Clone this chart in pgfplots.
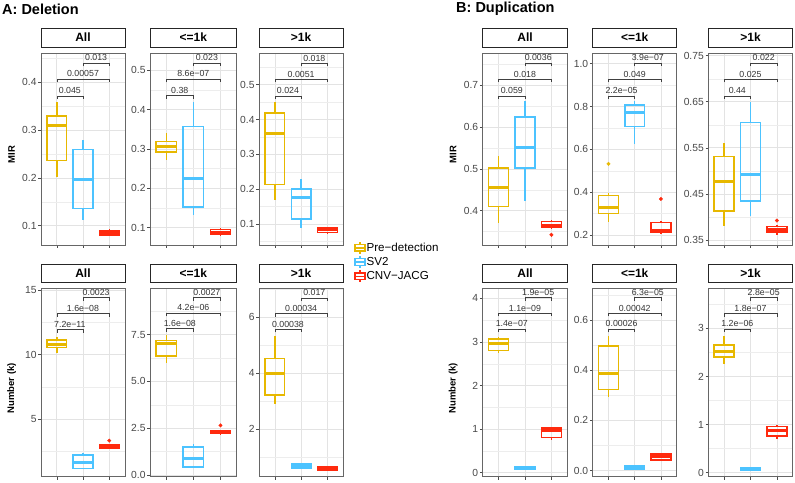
\documentclass[border=0pt]{standalone}
\usepackage{fontspec}
\setmainfont{Liberation Sans}
\usepackage{pgfplots}
\pgfplotsset{compat=1.18}
\usepgfplotslibrary{statistics}

\definecolor{cpre}{HTML}{E7B800}
\definecolor{csv}{HTML}{4CC3FF}
\definecolor{cjacg}{HTML}{FF2A0E}

% significance bracket: x1, x2, mid, y, label
\newcommand\brk[5]{%
  \draw[black!75, line width=0.45pt] ([yshift=-3.3pt]axis cs:#1,#4) -- (axis cs:#1,#4) -- (axis cs:#2,#4) -- ([yshift=-3.3pt]axis cs:#2,#4);
  \node[font=\fontsize{8.8}{10}\selectfont, anchor=south, inner sep=1.8pt, text=black!80] at (axis cs:#3,#4) {#5};}

\pgfplotsset{
  panel/.style={
    scale only axis, anchor=south west,
    xmin=0.4, xmax=3.6, xtick={1,2,3}, xticklabels={},
    axis line style={black!60, line width=0.6pt},
    tick align=outside, tick pos=left, major tick length=2.8pt,
    tick style={black!70, line width=0.5pt},
    minor tick length=0pt,
    grid=both,
    major grid style={black!11, line width=0.6pt},
    minor grid style={black!7, line width=0.35pt},
    yticklabel style={font=\fontsize{10.3}{12}\selectfont, text=black!72, inner sep=1.5pt},
    /pgf/number format/assume math mode=true,
    clip=false,
    title style={at={(0.5,1)}, anchor=south, draw=black!85, fill=white, line width=0.7pt,
      inner sep=0pt, outer sep=0pt, font=\bfseries\fontsize{12}{14}\selectfont},
    boxplot/draw direction=y,
    boxplot/box extend=0.75, boxplot/whisker extend=0,
    boxplot/every median/.style={line width=3pt},
    ylabel style={at={(axis description cs:-0.35,0.47)}, anchor=center,
      font=\bfseries\fontsize{9.5}{11}\selectfont},
  },
  pw/.style={width=#1, title style={minimum width=#1}},
  row1/.style={height=192pt, title style={minimum height=19pt}},
  row2/.style={height=188.4pt, title style={minimum height=18.3pt}},
  pre/.style={cpre, line width=1.5pt, mark=*, mark size=1.8pt, mark options={fill=cpre, draw=cpre, line width=0.3pt, solid}},
  sv/.style={csv, line width=1.5pt, mark=*, mark size=1.8pt, mark options={fill=csv, draw=csv, line width=0.3pt, solid}},
  jacg/.style={cjacg, line width=1.5pt, mark=*, mark size=1.8pt, mark options={fill=cjacg, draw=cjacg, line width=0.3pt, solid}},
}

\begin{document}
\begin{tikzpicture}[x=1pt, y=1pt]
\useasboundingbox (0,0) rectangle (795,482);

\node[anchor=west, font=\bfseries\fontsize{14.5}{16}\selectfont, inner sep=0pt] at (2,473) {A: Deletion};
\node[anchor=west, font=\bfseries\fontsize{14.5}{16}\selectfont, inner sep=0pt] at (456,473) {B: Duplication};

% ---------------- Deletion, MIR ----------------
\begin{axis}[panel, row1, pw=84pt, at={(41pt,237pt)}, title={All}, ylabel={MIR},
  ymin=0.0594, ymax=0.4615, ytick={0.1,0.2,0.3,0.4}, yticklabels={0.1,0.2,0.3,0.4},
  minor ytick={0.15,0.25,0.35,0.45}]
\addplot[pre, boxplot prepared={draw position=1, lower whisker=0.201, lower quartile=0.236, median=0.310, upper quartile=0.330, upper whisker=0.358}] coordinates {};
\addplot[sv, boxplot prepared={draw position=2, lower whisker=0.112, lower quartile=0.136, median=0.196, upper quartile=0.259, upper whisker=0.280}] coordinates {};
\addplot[jacg, boxplot prepared={draw position=3, lower whisker=0.078, lower quartile=0.080, median=0.085, upper quartile=0.090, upper whisker=0.092}] coordinates {};
\brk{1}{2}{1.5}{0.372}{0.045}
\brk{1}{3}{2}{0.407}{0.00057}
\brk{2}{3}{2.5}{0.4406}{0.013}
\end{axis}

\begin{axis}[panel, row1, pw=86.7pt, at={(150pt,237pt)}, title={<=1k},
  ymin=0.056, ymax=0.544, ytick={0.1,0.2,0.3,0.4,0.5}, yticklabels={0.1,0.2,0.3,0.4,0.5},
  minor ytick={0.15,0.25,0.35,0.45}]
\addplot[pre, boxplot prepared={draw position=1, lower whisker=0.271, lower quartile=0.292, median=0.307, upper quartile=0.319, upper whisker=0.340}] coordinates {};
\addplot[sv, boxplot prepared={draw position=2, lower whisker=0.132, lower quartile=0.153, median=0.226, upper quartile=0.357, upper whisker=0.419}] coordinates {};
\addplot[jacg, boxplot prepared={draw position=3, lower whisker=0.080, lower quartile=0.083, median=0.088, upper quartile=0.096, upper whisker=0.100}] coordinates {};
\brk{1}{2}{1.5}{0.4355}{0.38}
\brk{1}{3}{2}{0.478}{8.6e−07}
\brk{2}{3}{2.5}{0.519}{0.023}
\end{axis}

\begin{axis}[panel, row1, pw=84.3pt, at={(259pt,237pt)}, title={>1k},
  ymin=0.0396, ymax=0.591, ytick={0.1,0.2,0.3,0.4,0.5}, yticklabels={0.1,0.2,0.3,0.4,0.5},
  minor ytick={0.05,0.15,0.25,0.35,0.45,0.55}]
\addplot[pre, boxplot prepared={draw position=1, lower whisker=0.169, lower quartile=0.214, median=0.361, upper quartile=0.418, upper whisker=0.449}] coordinates {};
\addplot[sv, boxplot prepared={draw position=2, lower whisker=0.0875, lower quartile=0.114, median=0.176, upper quartile=0.201, upper whisker=0.229}] coordinates {};
\addplot[jacg, boxplot prepared={draw position=3, lower whisker=0.072, lower quartile=0.076, median=0.083, upper quartile=0.089, upper whisker=0.091}] coordinates {};
\brk{1}{2}{1.5}{0.468}{0.024}
\brk{1}{3}{2}{0.516}{0.0051}
\brk{2}{3}{2.5}{0.562}{0.018}
\end{axis}

% ---------------- Duplication, MIR ----------------
\begin{axis}[panel, row1, pw=84.6pt, at={(482.7pt,237pt)}, title={All}, ylabel={MIR},
  ymin=0.3176, ymax=0.7776, ytick={0.4,0.5,0.6,0.7}, yticklabels={0.4,0.5,0.6,0.7},
  minor ytick={0.35,0.45,0.55,0.65,0.75}]
\addplot[pre, boxplot prepared={draw position=1, lower whisker=0.371, lower quartile=0.410, median=0.455, upper quartile=0.502, upper whisker=0.531}] coordinates {};
\addplot[sv, boxplot prepared={draw position=2, lower whisker=0.422, lower quartile=0.502, median=0.551, upper quartile=0.624, upper whisker=0.662}] coordinates {};
\addplot[jacg, boxplot prepared={draw position=3, lower whisker=0.358, lower quartile=0.359, median=0.365, upper quartile=0.374, upper whisker=0.378}] table[row sep=\\, y index=0] {v\\ 0.342\\};
\brk{1}{2}{1.5}{0.675}{0.059}
\brk{1}{3}{2}{0.715}{0.018}
\brk{2}{3}{2.5}{0.754}{0.0036}
\end{axis}

\begin{axis}[panel, row1, pw=84pt, at={(592.7pt,237pt)}, title={<=1k},
  ymin=0.153, ymax=1.05, ytick={0.2,0.4,0.6,0.8,1.0}, yticklabels={0.2,0.4,0.6,0.8,1.0},
  minor ytick={0.3,0.5,0.7,0.9}]
\addplot[pre, boxplot prepared={draw position=1, lower whisker=0.262, lower quartile=0.301, median=0.327, upper quartile=0.384, upper whisker=0.395}] table[row sep=\\, y index=0] {v\\ 0.532\\};
\addplot[sv, boxplot prepared={draw position=2, lower whisker=0.626, lower quartile=0.707, median=0.774, upper quartile=0.808, upper whisker=0.824}] coordinates {};
\addplot[jacg, boxplot prepared={draw position=3, lower whisker=0.203, lower quartile=0.211, median=0.222, upper quartile=0.259, upper whisker=0.265}] table[row sep=\\, y index=0] {v\\ 0.368\\};
\brk{1}{2}{1.5}{0.850}{2.2e−05}
\brk{1}{3}{2}{0.928}{0.049}
\brk{2}{3}{2.5}{1.003}{3.9e−07}
\end{axis}

\begin{axis}[panel, row1, pw=84.4pt, at={(708.3pt,237pt)}, title={>1k},
  ymin=0.339, ymax=0.7558, ytick={0.35,0.45,0.55,0.65,0.75}, yticklabels={0.35,0.45,0.55,0.65,0.75},
  minor ytick={0.4,0.5,0.6,0.7}]
\addplot[pre, boxplot prepared={draw position=1, lower whisker=0.380, lower quartile=0.413, median=0.476, upper quartile=0.531, upper whisker=0.560}] coordinates {};
\addplot[sv, boxplot prepared={draw position=2, lower whisker=0.401, lower quartile=0.435, median=0.491, upper quartile=0.605, upper whisker=0.649}] coordinates {};
\addplot[jacg, boxplot prepared={draw position=3, lower whisker=0.361, lower quartile=0.367, median=0.373, upper quartile=0.379, upper whisker=0.382}] table[row sep=\\, y index=0] {v\\ 0.392\\};
\brk{1}{2}{1.5}{0.663}{0.44}
\brk{1}{3}{2}{0.699}{0.025}
\brk{2}{3}{2.5}{0.734}{0.022}
\end{axis}

% ---------------- Deletion, Number ----------------
\begin{axis}[panel, row2, pw=84pt, at={(41pt,5.3pt)}, title={All}, ylabel={Number (k)},
  ymin=0.53, ymax=15.13, ytick={5,10,15}, yticklabels={5,10,15},
  minor ytick={2.5,7.5,12.5}]
\addplot[pre, boxplot prepared={draw position=1, lower whisker=10.09, lower quartile=10.56, median=10.74, upper quartile=11.12, upper whisker=11.38}] coordinates {};
\addplot[sv, boxplot prepared={draw position=2, lower whisker=1.10, lower quartile=1.18, median=1.64, upper quartile=2.21, upper whisker=2.34}] coordinates {};
\addplot[jacg, boxplot prepared={draw position=3, lower whisker=2.70, lower quartile=2.73, median=2.85, upper quartile=2.98, upper whisker=3.00}] table[row sep=\\, y index=0] {v\\ 3.32\\};
\brk{1}{2}{1.5}{11.95}{7.2e−11}
\brk{1}{3}{2}{13.19}{1.6e−08}
\brk{2}{3}{2.5}{14.41}{0.0023}
\end{axis}

\begin{axis}[panel, row2, pw=86.7pt, at={(150pt,5.3pt)}, title={<=1k},
  ymin=-0.09, ymax=9.97, ytick={0,2.5,5,7.5}, yticklabels={0.0,2.5,5.0,7.5},
  minor ytick={1.25,3.75,6.25,8.75}]
\addplot[pre, boxplot prepared={draw position=1, lower whisker=6.00, lower quartile=6.35, median=7.02, upper quartile=7.18, upper whisker=7.45}] coordinates {};
\addplot[sv, boxplot prepared={draw position=2, lower whisker=0.40, lower quartile=0.44, median=0.88, upper quartile=1.50, upper whisker=1.68}] coordinates {};
\addplot[jacg, boxplot prepared={draw position=3, lower whisker=2.19, lower quartile=2.21, median=2.28, upper quartile=2.35, upper whisker=2.37}] table[row sep=\\, y index=0] {v\\ 2.65\\};
\brk{1}{2}{1.5}{7.82}{1.6e−08}
\brk{1}{3}{2}{8.65}{4.2e−06}
\brk{2}{3}{2.5}{9.48}{0.0027}
\end{axis}

\begin{axis}[panel, row2, pw=84.3pt, at={(259pt,5.3pt)}, title={>1k},
  ymin=0.31, ymax=7.04, ytick={2,4,6}, yticklabels={2,4,6},
  minor ytick={1,3,5,7}]
\addplot[pre, boxplot prepared={draw position=1, lower whisker=2.89, lower quartile=3.23, median=3.98, upper quartile=4.54, upper whisker=5.33}] coordinates {};
\addplot[sv, boxplot prepared={draw position=2, lower whisker=0.60, lower quartile=0.62, median=0.70, upper quartile=0.786, upper whisker=0.80}] coordinates {};
\addplot[jacg, boxplot prepared={draw position=3, lower whisker=0.53, lower quartile=0.55, median=0.60, upper quartile=0.67, upper whisker=0.68}] coordinates {};
\brk{1}{2}{1.5}{5.58}{0.00038}
\brk{1}{3}{2}{6.14}{0.00034}
\brk{2}{3}{2.5}{6.70}{0.017}
\end{axis}

% ---------------- Duplication, Number ----------------
\begin{axis}[panel, row2, pw=84.6pt, at={(482.7pt,5.3pt)}, title={All}, ylabel={Number (k)},
  ymin=-0.092, ymax=4.23, ytick={0,1,2,3,4}, yticklabels={0,1,2,3,4},
  minor ytick={0.5,1.5,2.5,3.5}]
\addplot[pre, boxplot prepared={draw position=1, lower whisker=2.75, lower quartile=2.80, median=2.97, upper quartile=3.07, upper whisker=3.12}] coordinates {};
\addplot[sv, boxplot prepared={draw position=2, lower whisker=0.07, lower quartile=0.08, median=0.11, upper quartile=0.14, upper whisker=0.15}] coordinates {};
\addplot[jacg, boxplot prepared={draw position=3, lower whisker=0.76, lower quartile=0.81, median=0.97, upper quartile=1.02, upper whisker=1.03}] coordinates {};
\brk{1}{2}{1.5}{3.30}{1.4e−07}
\brk{1}{3}{2}{3.66}{1.1e−09}
\brk{2}{3}{2.5}{4.02}{1.9e−05}
\end{axis}

\begin{axis}[panel, row2, pw=84pt, at={(592.7pt,5.3pt)}, title={<=1k},
  ymin=-0.024, ymax=0.726, ytick={0,0.2,0.4,0.6}, yticklabels={0.0,0.2,0.4,0.6},
  minor ytick={0.1,0.3,0.5,0.7}]
\addplot[pre, boxplot prepared={draw position=1, lower whisker=0.295, lower quartile=0.324, median=0.388, upper quartile=0.496, upper whisker=0.536}] coordinates {};
\addplot[sv, boxplot prepared={draw position=2, lower whisker=0.005, lower quartile=0.007, median=0.013, upper quartile=0.020, upper whisker=0.022}] coordinates {};
\addplot[jacg, boxplot prepared={draw position=3, lower whisker=0.040, lower quartile=0.042, median=0.055, upper quartile=0.066, upper whisker=0.068}] coordinates {};
\brk{1}{2}{1.5}{0.564}{0.00026}
\brk{1}{3}{2}{0.627}{0.00042}
\brk{2}{3}{2.5}{0.689}{6.3e−05}
\end{axis}

\begin{axis}[panel, row2, pw=84.4pt, at={(708.3pt,5.3pt)}, title={>1k},
  ymin=-0.083, ymax=3.83, ytick={0,1,2,3}, yticklabels={0,1,2,3},
  minor ytick={0.5,1.5,2.5,3.5}]
\addplot[pre, boxplot prepared={draw position=1, lower whisker=2.25, lower quartile=2.40, median=2.51, upper quartile=2.65, upper whisker=2.83}] coordinates {};
\addplot[sv, boxplot prepared={draw position=2, lower whisker=0.05, lower quartile=0.055, median=0.08, upper quartile=0.11, upper whisker=0.115}] coordinates {};
\addplot[jacg, boxplot prepared={draw position=3, lower whisker=0.70, lower quartile=0.76, median=0.88, upper quartile=0.96, upper whisker=0.99}] coordinates {};
\brk{1}{2}{1.5}{2.99}{1.2e−06}
\brk{1}{3}{2}{3.31}{1.8e−07}
\brk{2}{3}{2.5}{3.64}{2.8e−05}
\end{axis}

% ---------------- legend ----------------
\begin{axis}[at={(354pt,241pt)}, anchor=south west, hide axis, scale only axis,
  width=5pt, height=5pt, xmin=0, xmax=1, ymin=0, ymax=1,
  legend style={at={(0,0)}, anchor=north west, draw=none, fill=none,
    font=\fontsize{11.6}{13}\selectfont, row sep=0.8pt, inner sep=0pt,
    nodes={inner sep=1pt}},
  legend cell align=left,
  legend image code/.code={
    \draw[#1, line width=1.4pt, fill=white] (0pt,-3.3pt) rectangle (10pt,3.3pt);
    \draw[#1, line width=1.4pt] (0pt,0pt) -- (10pt,0pt) (5pt,3.3pt) -- (5pt,6pt) (5pt,-3.3pt) -- (5pt,-6pt);
  }]
\addlegendimage{cpre}
\addlegendentry{Pre−detection}
\addlegendimage{csv}
\addlegendentry{SV2}
\addlegendimage{cjacg}
\addlegendentry{CNV−JACG}
\end{axis}
\end{tikzpicture}
\end{document}
